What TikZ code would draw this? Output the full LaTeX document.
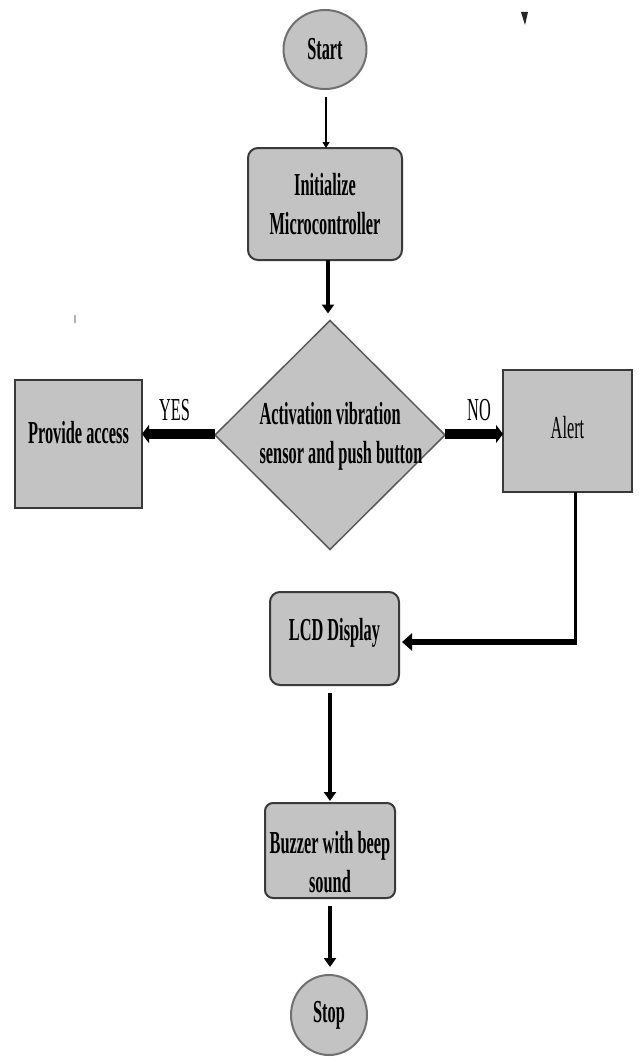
\documentclass[tikz,border=0pt]{standalone}
\usepackage{fontspec}
\setmainfont{Liberation Serif}[FakeStretch=0.51]
\usetikzlibrary{shapes.geometric,arrows.meta}
\definecolor{boxfill}{HTML}{C3C3C3}
\definecolor{boxline}{HTML}{3A3A3A}
\definecolor{circline}{HTML}{707070}
\definecolor{dialine}{HTML}{5A5A5A}
\begin{document}
\begin{tikzpicture}[x=1pt,y=-1pt,
  every node/.style={inner sep=0pt, outer sep=0pt},
  txt/.style={font=\fontsize{32}{39}\selectfont\bfseries, align=center},
  plaintxt/.style={font=\fontsize{32}{39}\selectfont},
  procbox/.style={rectangle, draw=boxline, fill=boxfill, line width=2pt},
  roundbox/.style={procbox, rounded corners=10pt},
  term/.style={ellipse, draw=circline, fill=boxfill, line width=2pt, txt},
  decbox/.style={diamond, draw=dialine, fill=boxfill, line width=1.5pt},
  thinarrow/.style={draw=black, line width=2pt, -{Triangle[length=6pt,width=7pt]}},
  midarrow/.style={draw=black, line width=4.5pt, -{Triangle[length=9pt,width=12pt]}},
  fatarrow/.style={draw=black, line width=10pt, -{Triangle[length=7pt,width=18pt]}},
  wire/.style={draw=black, line width=3pt},
  wirearrow/.style={draw=black, line width=6pt, -{Triangle[length=10pt,width=17pt]}}
]
\clip (0,0) rectangle (638,1057);
\fill[white] (0,0) rectangle (638,1057);

% nodes
\node[term, minimum width=83pt, minimum height=79pt] (start) at (325,49.5) {Start};
\node[roundbox, txt, minimum width=154pt, minimum height=112pt] (init) at (325,204) {Initialize\\Microcontroller};
\node[decbox, minimum width=230pt, minimum height=229pt,
      label={[txt, align=left, xshift=11pt, yshift=-1pt]center:Activation vibration\\sensor and push button}] (dec) at (330,435) {};
\node[procbox, minimum width=127pt, minimum height=128pt,
      label={[txt, yshift=11pt]center:Provide access}] (prov) at (78.5,444) {};
\node[procbox, minimum width=129pt, minimum height=122pt,
      label={[plaintxt, yshift=3.5pt]center:Alert}] (alert) at (567.5,431) {};
\node[roundbox, minimum width=129pt, minimum height=93pt,
      label={[txt, yshift=6pt]center:LCD Display}] (lcd) at (334.5,638.5) {};
\node[roundbox, rounded corners=8pt, minimum width=130pt, minimum height=95pt,
      label={[txt, yshift=-12pt]center:Buzzer with beep\\sound}] (buzz) at (330,850.5) {};
\node[term, minimum width=76pt, minimum height=80pt] (stop) at (329,1015) {Stop};
\coordinate (bend) at (575,642);

% connectors
\draw[thinarrow, shorten <=8pt] (start.south -| 326,0) -- (init.north -| 326,0);
\draw[midarrow, shorten >=7pt] (init.south -| 328,0) -- (dec.north -| 328,0);
\draw[fatarrow] (dec.west |- 0,434) -- (prov.east |- 0,434)
  node[plaintxt, midway, above=13pt, xshift=-4pt] {YES};
\draw[fatarrow] (dec.east |- 0,434) -- (alert.west |- 0,434)
  node[plaintxt, midway, above=13pt, xshift=5pt] {NO};
\draw[wire] (alert.south -| bend) -- (bend);
\draw[wirearrow, shorten >=3pt] ([xshift=1.5pt]bend) -- (bend -| lcd.east);
\draw[midarrow, shorten <=8pt, shorten >=2pt] (lcd.south -| buzz.north) -- (buzz.north);
\draw[midarrow, shorten <=8pt, shorten >=8pt] (buzz.south) -- (buzz.south |- stop.north);

% stray marks seen in the reference
\fill[black!85] (521,12) -- (528,12) -- (525,25) -- cycle;
\draw[gray!60, line width=1.5pt] (75,315) -- (75,323);
\end{tikzpicture}
\end{document}
